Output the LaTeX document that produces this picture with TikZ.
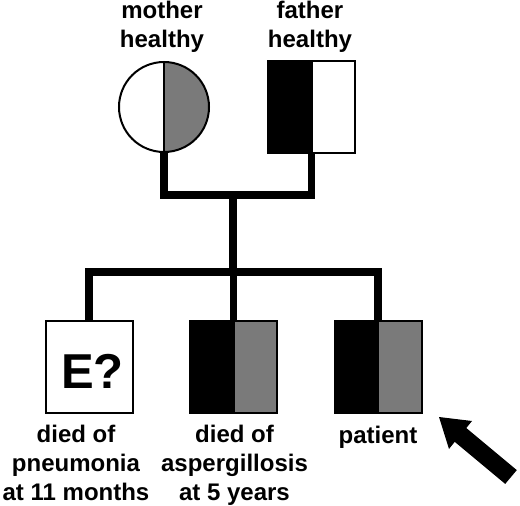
\documentclass[tikz,border=0pt]{standalone}
\usepackage{fontspec}
\setmainfont{Liberation Sans}
\definecolor{midgray}{RGB}{122,122,122}
\begin{document}
\begin{tikzpicture}[x=1pt,y=-1pt,
  person/.style={draw=black,line width=2pt,inner sep=0pt,outer sep=0pt},
  male/.style={person,rectangle,minimum width=87pt,minimum height=92pt},
  female/.style={person,circle,minimum size=90pt},
  lefthalf/.style={path picture={\fill[#1] (path picture bounding box.south west) rectangle (path picture bounding box.north);}},
  righthalf/.style={path picture={\fill[#1] (path picture bounding box.north) rectangle (path picture bounding box.south east);}},
  both/.style 2 args={path picture={\fill[#1] (path picture bounding box.south west) rectangle (path picture bounding box.north);\fill[#2] (path picture bounding box.north) rectangle (path picture bounding box.south east);}},
  divider/.style={line width=2pt},
  link/.style={line width=7.5pt,line join=miter,line cap=butt},
  label/.style={align=center,inner sep=0pt,anchor=base,font=\bfseries\fontsize{24}{28.7}\selectfont},
]
\useasboundingbox (0,0) rectangle (520,506);
% parents
\node[female,righthalf=midgray] (mother) at (164,107) {};
\draw[divider] (mother.north) -- (mother.south);
\node[male,lefthalf=black] (father) at (311.5,107) {};
\draw[divider] (father.north) -- (father.south);
% children
\node[male] (c1) at (89,367) {};
\node[male,both={black}{midgray}] (c2) at (233.5,367) {};
\draw[divider] (c2.north) -- (c2.south);
\node[male,both={black}{midgray}] (c3) at (378,367) {};
\draw[divider] (c3.north) -- (c3.south);
\node[inner sep=0pt,font=\bfseries\fontsize{49}{49}\selectfont] (eq) at (92.5,371) {E?};
% lines
\coordinate (mid) at (233,195);
\coordinate (sib) at (233,272);
\draw[link] (mother.south) -- (mother.south |- mid) -- (father.south |- mid) -- (father.south);
\draw[link] (mid) -- (sib);
\draw[link] (c1.north) -- (c1.north |- sib) -- (c3.north |- sib) -- (c3.north);
\draw[link] (c2.north) -- (c2.north |- sib);
% labels (anchor = baseline of last line)
\node[label] (lm) at (162,47) {mother\\healthy};
\node[label] (lf) at (310,47) {father\\healthy};
\node[label] (l1) at (76,500) {died of\\pneumonia\\at 11 months};
\node[label] (l2) at (234.5,500) {died of\\aspergillosis\\at 5 years};
\node[label] (l3) at (378,443) {patient};
% arrow
\fill (439,417) -- (472,421) -- (466.3,428) -- (516.8,470.1) -- (505.2,483.9) -- (454.7,441.8) -- (449,449) -- cycle;
\end{tikzpicture}
\end{document}
